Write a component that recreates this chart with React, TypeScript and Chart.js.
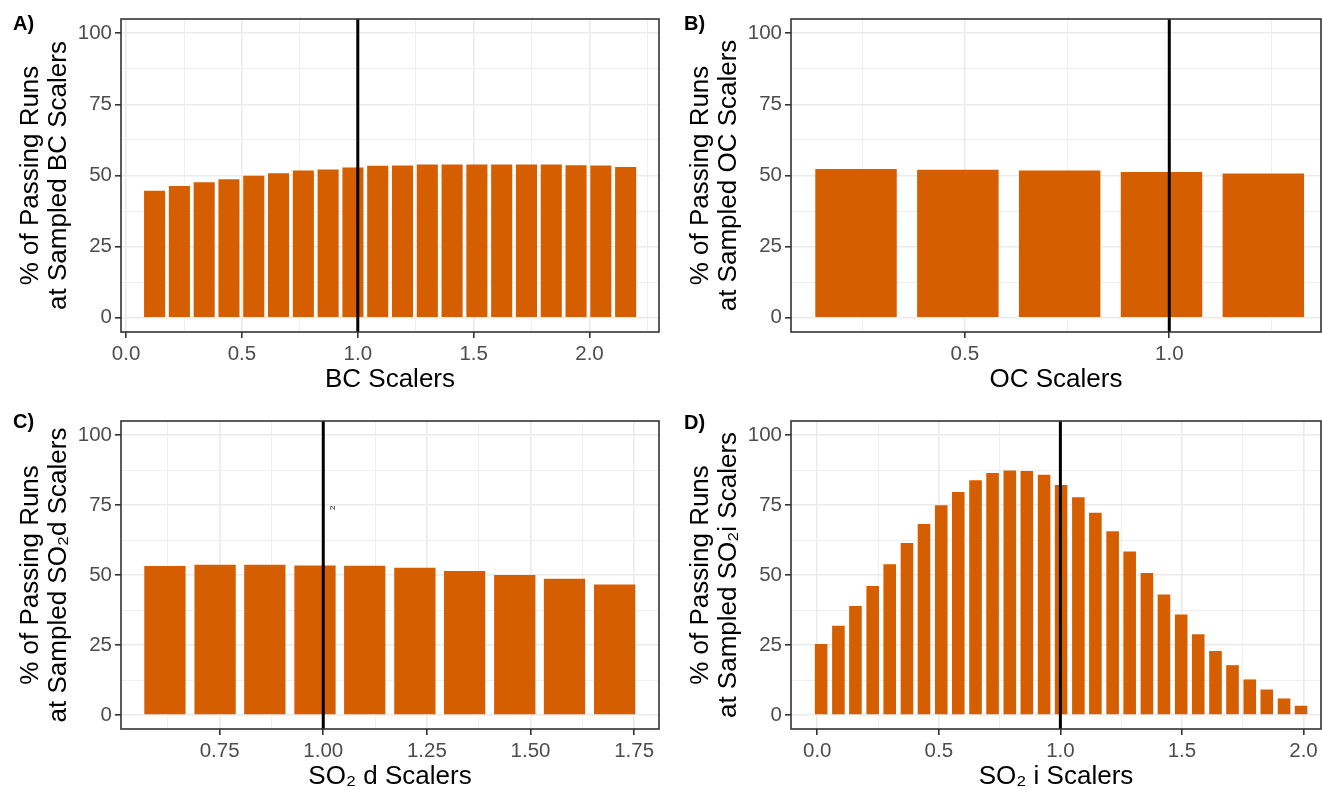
import React, { useEffect, useRef } from "react";
import { Chart, registerables } from "chart.js";

Chart.register(...registerables);

// ---------- data ----------
const bcScalers = [0.123, 0.23, 0.337, 0.444, 0.551, 0.658, 0.765, 0.872, 0.979, 1.086, 1.193, 1.3, 1.407, 1.514, 1.621, 1.728, 1.835, 1.942, 2.049, 2.156];
const bcPassing = [44.6, 46.3, 47.6, 48.7, 49.9, 50.8, 51.8, 52.1, 52.8, 53.4, 53.5, 53.9, 53.9, 53.9, 53.9, 53.9, 53.9, 53.6, 53.5, 53.0];
const bcMajorTicks = [0, 0.5, 1, 1.5, 2];
const bcMinorTicks = [0.25, 0.75, 1.25, 1.75, 2.25];

const ocScalers = [0.234, 0.483, 0.732, 0.981, 1.23];
const ocPassing = [52.3, 52.0, 51.8, 51.2, 50.7];
const ocMajorTicks = [0.5, 1];
const ocMinorTicks = [0.25, 0.75, 1.25];

const so2dScalers = [0.618, 0.739, 0.859, 0.98, 1.1, 1.221, 1.341, 1.462, 1.582, 1.703];
const so2dPassing = [53.2, 53.7, 53.7, 53.4, 53.3, 52.6, 51.4, 50.0, 48.7, 46.6];
const so2dMajorTicks = [0.75, 1, 1.25, 1.5, 1.75];
const so2dMinorTicks = [0.625, 0.875, 1.125, 1.375, 1.625];

const so2iScalers = [0.016, 0.087, 0.157, 0.228, 0.298, 0.369, 0.439, 0.51, 0.58, 0.651, 0.721, 0.792, 0.862, 0.933, 1.003, 1.074, 1.144, 1.215, 1.285, 1.356, 1.426, 1.497, 1.567, 1.638, 1.708, 1.779, 1.849, 1.92, 1.99];
const so2iPassing = [25.4, 31.9, 38.9, 46.1, 53.8, 61.4, 68.2, 74.9, 79.6, 83.8, 86.4, 87.3, 87.1, 85.8, 82.1, 77.8, 72.2, 65.6, 58.4, 50.7, 43.0, 35.9, 28.8, 22.9, 17.8, 12.7, 9.1, 5.9, 3.3];
const so2iMajorTicks = [0, 0.5, 1, 1.5, 2];
const so2iMinorTicks = [0.25, 0.75, 1.25, 1.75];

const yMajorTicks = [0, 25, 50, 75, 100];
const yMinorTicks = [12.5, 37.5, 62.5, 87.5];
const referenceScaler = 1.0;

// ---------- style ----------
const FONT = "'Liberation Sans', Arial, Helvetica, sans-serif";
const BAR_COLOR = "#D55E00";
const GRID = "#EBEBEB";
const BORDER = "#333333";
const TICK_TEXT = "#4D4D4D";

type Panel = {
  label: string;
  xs: number[];
  ys: number[];
  xMajor: number[];
  xMinor: number[];
  decimals: number;
  xMin: number;
  xMax: number;
  xTitle: string;
  yTitle: string[];
  barPct: number;
  box: { left: number; top: number; width: number; height: number };
  area: { l: number; t: number; r: number; b: number };
  labelPos: { x: number; y: number };
  stray?: boolean;
};

const panels: Panel[] = [
  {
    label: "A)", xs: bcScalers, ys: bcPassing, xMajor: bcMajorTicks, xMinor: bcMinorTicks, decimals: 1,
    xMin: -0.022, xMax: 2.3, xTitle: "BC Scalers", yTitle: ["% of Passing Runs", "at Sampled BC Scalers"],
    barPct: 0.85,
    box: { left: 0, top: 0, width: 660, height: 395 },
    area: { l: 121, t: 19, r: 659, b: 332 },
    labelPos: { x: 13, y: 24 },
  },
  {
    label: "B)", xs: ocScalers, ys: ocPassing, xMajor: ocMajorTicks, xMinor: ocMinorTicks, decimals: 1,
    xMin: 0.075, xMax: 1.371, xTitle: "OC Scalers", yTitle: ["% of Passing Runs", "at Sampled OC Scalers"],
    barPct: 0.8,
    box: { left: 660, top: 0, width: 662, height: 395 },
    area: { l: 131, t: 19, r: 661, b: 332 },
    labelPos: { x: 24, y: 24 },
  },
  {
    label: "C)", xs: so2dScalers, ys: so2dPassing, xMajor: so2dMajorTicks, xMinor: so2dMinorTicks, decimals: 2,
    xMin: 0.512, xMax: 1.81, xTitle: "SO\u2082 d Scalers", yTitle: ["% of Passing Runs", "at Sampled SO\u2082d Scalers"],
    barPct: 0.83,
    box: { left: 0, top: 395, width: 660, height: 395 },
    area: { l: 121, t: 26, r: 659, b: 334 },
    labelPos: { x: 13, y: 27 },
    stray: true,
  },
  {
    label: "D)", xs: so2iScalers, ys: so2iPassing, xMajor: so2iMajorTicks, xMinor: so2iMinorTicks, decimals: 1,
    xMin: -0.108, xMax: 2.072, xTitle: "SO\u2082 i Scalers", yTitle: ["% of Passing Runs", "at Sampled SO\u2082i Scalers"],
    barPct: 0.74,
    box: { left: 660, top: 395, width: 662, height: 395 },
    area: { l: 131, t: 26, r: 661, b: 334 },
    labelPos: { x: 24, y: 28 },
  },
];

const near = (list: number[], v: number) => list.some((m) => Math.abs(m - v) < 1e-6);

function buildChart(canvas: HTMLCanvasElement, p: Panel) {
  const W = p.box.width;
  const H = p.box.height;
  const xTickVals = [...p.xMajor, ...p.xMinor].sort((a, b) => a - b);
  const yTickVals = [...yMajorTicks, ...yMinorTicks].sort((a, b) => a - b);

  const decorPlugin = {
    id: "decor" + p.label,
    afterDraw(chart: any) {
      const ctx = chart.ctx as CanvasRenderingContext2D;
      const a = chart.chartArea;
      ctx.save();
      // panel border
      ctx.strokeStyle = BORDER;
      ctx.lineWidth = 1.6;
      ctx.strokeRect(a.left, a.top, a.right - a.left, a.bottom - a.top);
      // x title
      ctx.fillStyle = "#000";
      ctx.font = `26px ${FONT}`;
      ctx.textAlign = "center";
      ctx.textBaseline = "middle";
      ctx.fillText(p.xTitle, (a.left + a.right) / 2, a.bottom + 48);
      // y title (two lines, rotated)
      const cy = (a.top + a.bottom) / 2;
      const offs = [a.left - 90, a.left - 62];
      p.yTitle.forEach((line, i) => {
        ctx.save();
        ctx.translate(offs[i], cy);
        ctx.rotate(-Math.PI / 2);
        ctx.fillText(line, 0, 0);
        ctx.restore();
      });
      // panel label
      ctx.font = `bold 20px ${FONT}`;
      ctx.textAlign = "left";
      ctx.fillText(p.label, p.labelPos.x, p.labelPos.y);
      // stray rotated subscript remnant
      if (p.stray) {
        const xs = chart.scales.x;
        const ys = chart.scales.y;
        ctx.save();
        ctx.font = `8px ${FONT}`;
        ctx.translate(xs.getPixelForValue(referenceScaler) + 10, ys.getPixelForValue(74));
        ctx.rotate(-Math.PI / 2);
        ctx.textAlign = "center";
        ctx.fillText("2", 0, 0);
        ctx.restore();
      }
      ctx.restore();
    },
  };

  return new Chart(canvas, {
    type: "bar",
    data: {
      datasets: [
        {
          type: "line",
          data: [
            { x: referenceScaler, y: -5 },
            { x: referenceScaler, y: 105 },
          ],
          borderColor: "#000000",
          borderWidth: 3,
          pointRadius: 0,
          order: 0,
        } as any,
        {
          type: "bar",
          data: p.xs.map((x, i) => ({ x, y: p.ys[i] })),
          backgroundColor: BAR_COLOR,
          borderWidth: 0,
          barPercentage: p.barPct,
          categoryPercentage: 1,
          order: 1,
        } as any,
      ],
    },
    options: {
      animation: false,
      responsive: false,
      maintainAspectRatio: false,
      layout: { padding: { top: p.area.t, right: W - p.area.r, bottom: 0, left: 0 } },
      plugins: { legend: { display: false }, tooltip: { enabled: false }, title: { display: false } },
      scales: {
        x: {
          type: "linear",
          min: p.xMin,
          max: p.xMax,
          bounds: "data",
          offset: false,
          afterBuildTicks: (s: any) => {
            s.ticks = xTickVals.map((v) => ({ value: v }));
          },
          afterFit: (s: any) => {
            s.height = H - p.area.b;
          },
          ticks: {
            autoSkip: false,
            maxRotation: 0,
            minRotation: 0,
            padding: 4,
            color: TICK_TEXT,
            font: { family: FONT, size: 20.5 },
            callback: (v: any) => (near(p.xMajor, Number(v)) ? Number(v).toFixed(p.decimals) : ""),
          },
          grid: {
            offset: false,
            color: GRID,
            lineWidth: (c: any) => (c.tick && near(p.xMajor, c.tick.value) ? 1.6 : 0.8),
            tickLength: 6,
            tickWidth: 1.6,
            tickColor: (c: any) => (c.tick && near(p.xMajor, c.tick.value) ? BORDER : "rgba(0,0,0,0)"),
          },
          border: { display: false },
        },
        y: {
          type: "linear",
          min: -5,
          max: 105,
          bounds: "data",
          afterBuildTicks: (s: any) => {
            s.ticks = yTickVals.map((v) => ({ value: v }));
          },
          afterFit: (s: any) => {
            s.width = p.area.l;
          },
          ticks: {
            autoSkip: false,
            padding: 3,
            color: TICK_TEXT,
            font: { family: FONT, size: 20.5 },
            callback: (v: any) => (near(yMajorTicks, Number(v)) ? String(v) : ""),
          },
          grid: {
            offset: false,
            color: GRID,
            lineWidth: (c: any) => (c.tick && near(yMajorTicks, c.tick.value) ? 1.6 : 0.8),
            tickLength: 6,
            tickWidth: 1.6,
            tickColor: (c: any) => (c.tick && near(yMajorTicks, c.tick.value) ? BORDER : "rgba(0,0,0,0)"),
          },
          border: { display: false },
        },
      },
    } as any,
    plugins: [decorPlugin],
  });
}

function PanelChart({ p }: { p: Panel }) {
  const ref = useRef<HTMLCanvasElement | null>(null);
  useEffect(() => {
    if (!ref.current) return;
    const chart = buildChart(ref.current, p);
    return () => chart.destroy();
  }, [p]);
  return (
    <canvas
      ref={ref}
      width={p.box.width}
      height={p.box.height}
      style={{
        position: "absolute",
        left: p.box.left,
        top: p.box.top,
        width: p.box.width,
        height: p.box.height,
        display: "block",
      }}
    />
  );
}

export default function App() {
  return (
    <div
      style={{
        position: "absolute",
        left: 0,
        top: 0,
        width: 1322,
        height: 790,
        background: "#ffffff",
        overflow: "hidden",
      }}
    >
      {panels.map((p) => (
        <PanelChart key={p.label} p={p} />
      ))}
    </div>
  );
}
